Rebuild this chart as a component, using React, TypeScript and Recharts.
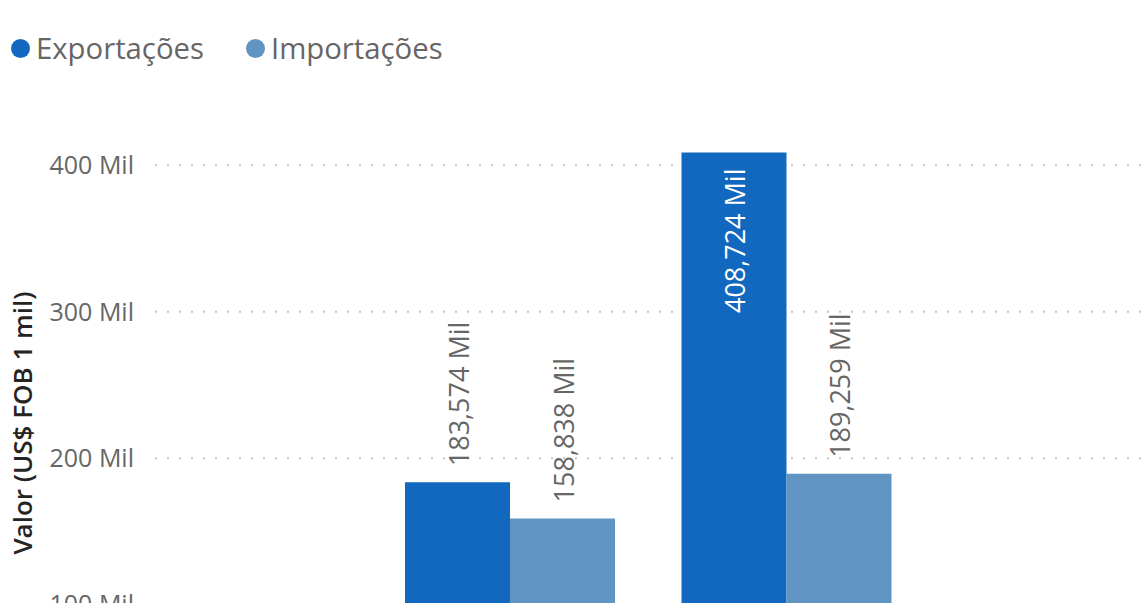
import React from "react";
import {
  BarChart,
  Bar,
  XAxis,
  YAxis,
  CartesianGrid,
  Legend,
  LabelList,
  Label,
} from "recharts";

const periodos = ["Período 1", "Período 2"];
const exportacoes = [183574, 408724];
const importacoes = [158838, 189259];
const yTicks = [0, 100000, 200000, 300000, 400000];

const COR_EXP = "#1168BE";
const COR_IMP = "#6094C2";
const FONT = "'Open Sans', sans-serif";

const data = periodos.map((p, i) => ({
  periodo: p,
  Exportações: exportacoes[i],
  Importações: importacoes[i],
}));

const fmtTick = (v: number) => `${v / 1000} Mil`;
const fmtLabel = (v: number) => `${(v / 1000).toFixed(3).replace(".", ",")} Mil`;

const PLOT_TOP = 136;

// rotated data label: above the bar, or inside if there is no room
function renderBarLabel(props: any) {
  const { x, y, width, value } = props;
  const text = fmtLabel(Number(value));
  const ax = x + width / 2 + 11.5;
  const inside = y - 14 - 150 < PLOT_TOP;
  const ay = inside ? y + 16 : y - 16;
  return (
    <text
      x={ax}
      y={ay}
      transform={`rotate(-90 ${ax} ${ay})`}
      textAnchor={inside ? "end" : "start"}
      fontFamily={FONT}
      fontSize={27}
      fill={inside ? "#ffffff" : "#666666"}
    >
      {text}
    </text>
  );
}

function LegendContent() {
  const items = [
    { name: "Exportações", color: COR_EXP, left: 11 },
    { name: "Importações", color: COR_IMP, left: 246 },
  ];
  return (
    <div style={{ position: "relative", width: 600, height: 40 }}>
      {items.map((it) => (
        <div
          key={it.name}
          style={{
            position: "absolute",
            left: it.left,
            top: 0,
            display: "flex",
            alignItems: "center",
            fontFamily: FONT,
            fontSize: 29.3,
            lineHeight: "39.5px",
            color: "#666666",
            whiteSpace: "nowrap",
          }}
        >
          <span
            style={{
              display: "inline-block",
              width: 19,
              height: 19,
              borderRadius: "50%",
              background: it.color,
              marginRight: 6,
            }}
          />
          {it.name}
        </div>
      ))}
    </div>
  );
}

export default function App() {
  return (
    <div
      style={{
        position: "absolute",
        left: 0,
        top: 0,
        width: 1144,
        height: 603,
        overflow: "hidden",
        background: "#ffffff",
      }}
    >
      <BarChart
        width={1144}
        height={800}
        data={data}
        margin={{ top: PLOT_TOP, right: 0, bottom: 49, left: 0 }}
        barGap={0}
      >
        <CartesianGrid
          vertical={false}
          horizontalValues={yTicks.slice(1)}
          stroke="#C8C6C4"
          strokeWidth={2}
          strokeDasharray="2 10"
        />
        <XAxis dataKey="periodo" hide padding={{ left: 217, right: 219 }} />
        <YAxis
          width={155}
          domain={[0, 420000]}
          ticks={yTicks}
          tickFormatter={fmtTick}
          axisLine={false}
          tickLine={false}
          tickSize={0}
          tickMargin={21}
          tick={{ fill: "#666666", fontSize: 25, fontFamily: FONT }}
        >
          <Label
            content={() => (
              <text
                x={22}
                y={423}
                transform="rotate(-90 22 423)"
                textAnchor="middle"
                dominantBaseline="central"
                fontFamily={FONT}
                fontWeight={600}
                fontSize={26}
                fill="#252423"
              >
                Valor (US$ FOB 1 mil)
              </text>
            )}
          />
        </YAxis>
        <Legend
          layout="horizontal"
          verticalAlign="middle"
          wrapperStyle={{ top: 29, left: 0 }}
          content={() => <LegendContent />}
        />
        <Bar dataKey="Exportações" fill={COR_EXP} barSize={105} isAnimationActive={false}>
          <LabelList dataKey="Exportações" content={renderBarLabel} />
        </Bar>
        <Bar dataKey="Importações" fill={COR_IMP} barSize={105} isAnimationActive={false}>
          <LabelList dataKey="Importações" content={renderBarLabel} />
        </Bar>
      </BarChart>
    </div>
  );
}
